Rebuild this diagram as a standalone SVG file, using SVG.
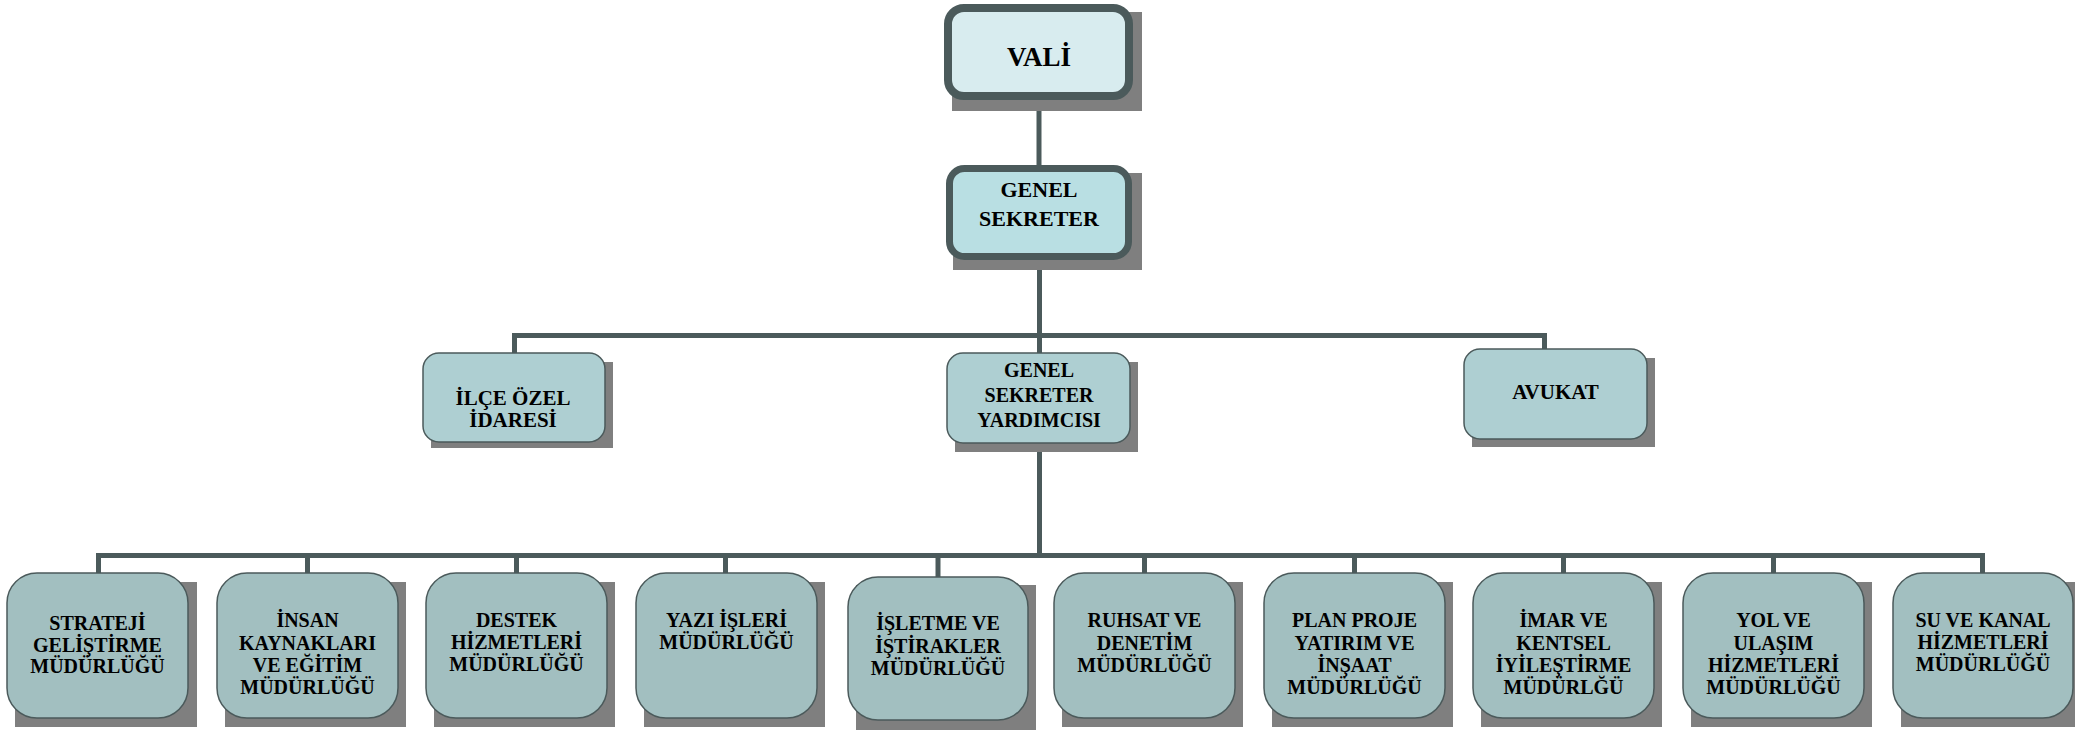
<svg xmlns="http://www.w3.org/2000/svg" width="2075" height="730" viewBox="0 0 2075 730">
<style>
  text { font-family: "Liberation Serif", "Times New Roman", serif; font-weight: bold; fill: #000; text-anchor: middle; }
  .sh { fill: #7f7f7f; }
  .top { fill: #d8ecef; stroke: #4b5a5b; stroke-width: 8; }
  .gs { fill: #b9dfe3; stroke: #4b5a5b; stroke-width: 7; }
  .mid { fill: #aecfd2; stroke: #4b5a5b; stroke-width: 1.5; }
  .low { fill: #a2bfc0; stroke: #4b5a5b; stroke-width: 1.5; }
  .conn { fill: none; stroke: #4b5a5b; stroke-width: 5; stroke-linejoin: miter; stroke-linecap: butt; }
  .t27 { font-size: 27px; }
  .t22 { font-size: 22px; }
  .t21 { font-size: 21px; }
  .t20 { font-size: 20px; }
</style>
<rect width="2075" height="730" fill="#ffffff"/>
<g id="connectors">
  <path class="conn" d="M1039,100 V166"/>
  <path class="conn" d="M1039.5,258 V354"/>
  <path class="conn" d="M514.5,354 V335.5 H1544.5 V350"/>
  <path class="conn" d="M1039.5,442 V556"/>
  <path class="conn" d="M98.5,574 V555.5 H1982.5 V574"/>
  <path class="conn" d="M307.5,555.5 V574"/>
  <path class="conn" d="M516.5,555.5 V574"/>
  <path class="conn" d="M725.5,555.5 V574"/>
  <path class="conn" d="M938,555.5 V578"/>
  <path class="conn" d="M1144.5,555.5 V574"/>
  <path class="conn" d="M1354.5,555.5 V574"/>
  <path class="conn" d="M1563.5,555.5 V574"/>
  <path class="conn" d="M1773.5,555.5 V574"/>
</g>
<g id="vali">
  <rect class="sh" x="952" y="12" width="190" height="99"/>
  <rect class="top" x="948" y="8" width="181" height="88" rx="16"/>
  <text class="t27" x="1039" y="66">VALİ</text>
</g>
<g id="genel-sekreter">
  <rect class="sh" x="953" y="173" width="189" height="97"/>
  <rect class="gs" x="949.5" y="168.5" width="179" height="88" rx="15"/>
  <text class="t22"><tspan x="1039" y="197">GENEL</tspan><tspan x="1039" y="226">SEKRETER</tspan></text>
</g>
<g id="ilce-ozel-idaresi">
  <rect class="sh" x="431" y="362" width="182" height="86"/>
  <rect class="mid" x="423" y="353" width="182" height="89" rx="16"/>
  <text class="t21"><tspan x="513" y="405">İLÇE ÖZEL</tspan><tspan x="513" y="427">İDARESİ</tspan></text>
</g>
<g id="genel-sekreter-yardimcisi">
  <rect class="sh" x="955" y="362" width="183" height="90"/>
  <rect class="mid" x="947" y="353" width="183" height="90" rx="16"/>
  <text class="t20"><tspan x="1039" y="377">GENEL</tspan><tspan x="1039" y="402">SEKRETER</tspan><tspan x="1039" y="427">YARDIMCISI</tspan></text>
</g>
<g id="avukat">
  <rect class="sh" x="1472" y="358" width="183" height="89"/>
  <rect class="mid" x="1464" y="349" width="183" height="90" rx="16"/>
  <text class="t21" x="1555.5" y="399">AVUKAT</text>
</g>
<g id="strateji">
  <rect class="sh" x="15" y="582" width="182" height="145"/>
  <rect class="low" x="7" y="573" width="181" height="145" rx="30"/>
  <text class="t20"><tspan x="97.5" y="630">STRATEJİ</tspan><tspan x="97.5" y="651.5">GELİŞTİRME</tspan><tspan x="97.5" y="673">MÜDÜRLÜĞÜ</tspan></text>
</g>
<g id="insan-kaynaklari">
  <rect class="sh" x="225" y="582" width="181" height="145"/>
  <rect class="low" x="217" y="573" width="181" height="145" rx="30"/>
  <text class="t20"><tspan x="307.5" y="627">İNSAN</tspan><tspan x="307.5" y="649.5">KAYNAKLARI</tspan><tspan x="307.5" y="671.5">VE EĞİTİM</tspan><tspan x="307.5" y="693.5">MÜDÜRLÜĞÜ</tspan></text>
</g>
<g id="destek">
  <rect class="sh" x="434" y="582" width="181" height="145"/>
  <rect class="low" x="426" y="573" width="181" height="145" rx="30"/>
  <text class="t20"><tspan x="516.5" y="627">DESTEK</tspan><tspan x="516.5" y="649">HİZMETLERİ</tspan><tspan x="516.5" y="671">MÜDÜRLÜĞÜ</tspan></text>
</g>
<g id="yazi-isleri">
  <rect class="sh" x="644" y="582" width="181" height="145"/>
  <rect class="low" x="636" y="573" width="181" height="145" rx="30"/>
  <text class="t20"><tspan x="726.5" y="627">YAZI İŞLERİ</tspan><tspan x="726.5" y="648.5">MÜDÜRLÜĞÜ</tspan></text>
</g>
<g id="isletme">
  <rect class="sh" x="856" y="585" width="180" height="145"/>
  <rect class="low" x="848" y="577" width="180" height="143" rx="30"/>
  <text class="t20"><tspan x="938" y="630">İŞLETME VE</tspan><tspan x="938" y="652.5">İŞTİRAKLER</tspan><tspan x="938" y="675">MÜDÜRLÜĞÜ</tspan></text>
</g>
<g id="ruhsat">
  <rect class="sh" x="1062" y="582" width="181" height="145"/>
  <rect class="low" x="1054" y="573" width="181" height="145" rx="30"/>
  <text class="t20"><tspan x="1144.5" y="627">RUHSAT VE</tspan><tspan x="1144.5" y="649.5">DENETİM</tspan><tspan x="1144.5" y="672">MÜDÜRLÜĞÜ</tspan></text>
</g>
<g id="plan-proje">
  <rect class="sh" x="1272" y="582" width="181" height="145"/>
  <rect class="low" x="1264" y="573" width="181" height="145" rx="30"/>
  <text class="t20"><tspan x="1354.5" y="627">PLAN PROJE</tspan><tspan x="1354.5" y="649.5">YATIRIM VE</tspan><tspan x="1354.5" y="672">İNŞAAT</tspan><tspan x="1354.5" y="694">MÜDÜRLÜĞÜ</tspan></text>
</g>
<g id="imar">
  <rect class="sh" x="1481" y="582" width="181" height="145"/>
  <rect class="low" x="1473" y="573" width="181" height="145" rx="30"/>
  <text class="t20"><tspan x="1563.5" y="627">İMAR VE</tspan><tspan x="1563.5" y="649.5">KENTSEL</tspan><tspan x="1563.5" y="672">İYİLEŞTİRME</tspan><tspan x="1563.5" y="694">MÜDÜRLĞÜ</tspan></text>
</g>
<g id="yol-ulasim">
  <rect class="sh" x="1691" y="582" width="181" height="145"/>
  <rect class="low" x="1683" y="573" width="181" height="145" rx="30"/>
  <text class="t20"><tspan x="1773.5" y="627">YOL VE</tspan><tspan x="1773.5" y="649.5">ULAŞIM</tspan><tspan x="1773.5" y="672">HİZMETLERİ</tspan><tspan x="1773.5" y="694">MÜDÜRLÜĞÜ</tspan></text>
</g>
<g id="su-kanal">
  <rect class="sh" x="1901" y="582" width="174" height="145"/>
  <rect class="low" x="1893" y="573" width="180" height="145" rx="30"/>
  <text class="t20"><tspan x="1983" y="627">SU VE KANAL</tspan><tspan x="1983" y="649">HİZMETLERİ</tspan><tspan x="1983" y="671">MÜDÜRLÜĞÜ</tspan></text>
</g>
</svg>
